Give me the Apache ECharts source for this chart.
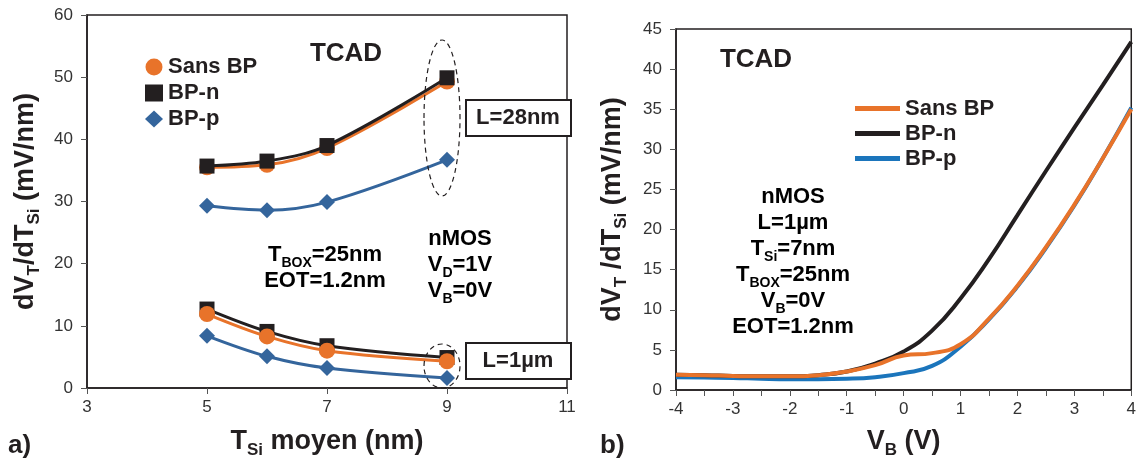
<!DOCTYPE html>
<html>
<head>
<meta charset="utf-8">
<script src="https://cdn.jsdelivr.net/npm/echarts@6/dist/echarts.min.js"></script>
<style>
html,body{margin:0;padding:0;background:#fff;}
#chart{width:1139px;height:464px;}
</style>
</head>
<body>
<div id="chart"></div>
<script>
// ---------- Data: panel a) ----------
const tsi = [5, 6, 7, 9];
const sans28 = [35.5, 35.9, 38.6, 49.3];
const bpn28  = [35.7, 36.5, 39.0, 49.9];
const bpp28  = [29.3, 28.6, 29.9, 36.7];
const sans1  = [11.9, 8.3, 6.0, 4.3];
const bpn1   = [12.7, 9.1, 6.8, 4.9];
const bpp1   = [8.4, 5.1, 3.2, 1.6];
const xTicksA = [3, 5, 7, 9, 11];

// ---------- Data: panel b) ----------
const vb    = [-4, -3.5, -3, -2.5, -2, -1.5, -1, -0.5, 0, 0.5, 1, 1.5, 2, 2.5, 3, 3.5, 4];
const sansB = [1.9, 1.85, 1.75, 1.7, 1.7, 1.85, 2.3, 3.1, 4.3, 4.6, 5.7, 8.9, 13.0, 17.8, 23.1, 28.9, 35.0];
const bpnB  = [1.9, 1.85, 1.75, 1.7, 1.7, 1.85, 2.3, 3.3, 4.8, 7.4, 11.4, 16.3, 21.8, 27.3, 32.7, 38.0, 43.4];
const bppB  = [1.6, 1.55, 1.5, 1.4, 1.35, 1.35, 1.4, 1.6, 2.1, 3.0, 5.4, 8.8, 12.9, 17.7, 23.0, 28.9, 35.2];

const ORANGE = '#E8732A', BLACK = '#231F20', BLUE_A = '#34659C', BLUE_B = '#1B75BC';
const FONT = 'Liberation Sans, Arial, Helvetica, sans-serif';

const pairs = (xs, ys) => xs.map((x, i) => [x, ys[i]]);

function rich(size, sub) {
  return {
    b: {fontSize: size, fontWeight: 'bold', fontFamily: FONT, color: BLACK, lineHeight: size + 4, verticalAlign: 'top', padding: [0, 0, 3, 0]},
    s: {fontSize: sub, fontWeight: 'bold', fontFamily: FONT, color: BLACK, lineHeight: sub, verticalAlign: 'bottom'}
  };
}

function markSeries(name, ys, color, symbol, size, z) {
  return {
    type: 'line', name, xAxisIndex: 0, yAxisIndex: 0, z,
    data: pairs(tsi, ys), smooth: 0.35,
    symbol, symbolSize: size, showSymbol: true,
    itemStyle: {color}, lineStyle: {color, width: 3},
    emphasis: {disabled: true}
  };
}
function curveSeries(name, ys, color, z) {
  return {
    type: 'line', name, xAxisIndex: 1, yAxisIndex: 1, z,
    data: pairs(vb, ys), smooth: 0.5, showSymbol: false, symbol: 'none',
    itemStyle: {color}, lineStyle: {color, width: 4},
    emphasis: {disabled: true}
  };
}

function axisCommon(isX) {
  return {
    axisLine: {show: true, onZero: false, lineStyle: {color: BLACK, width: 1.5}},
    axisTick: {show: true, inside: false, length: 6, lineStyle: {color: '#555', width: 1}},
    axisLabel: {color: '#333', fontSize: 17, fontFamily: FONT, margin: isX ? 11 : 14},
    splitLine: {show: false}
  };
}

const chart = echarts.init(document.getElementById('chart'), null, {renderer: 'canvas'});
const option = {
  animation: false,
  backgroundColor: '#fff',
  grid: [
    {left: 87, top: 15, width: 480, height: 374, show: true, borderColor: BLACK, borderWidth: 1.5, backgroundColor: 'transparent'},
    {left: 676, top: 29, width: 461, height: 361, show: true, borderColor: BLACK, borderWidth: 1.5, backgroundColor: 'transparent'}
  ],
  xAxis: [
    Object.assign(axisCommon(true), {
      type: 'value', gridIndex: 0, min: xTicksA[0], max: xTicksA[xTicksA.length - 1], interval: 2,
      name: '{b|T}{s|Si}{b| moyen (nm)}', nameLocation: 'middle', nameGap: 40,
      nameTextStyle: {rich: rich(27, 17)}
    }),
    Object.assign(axisCommon(true), {
      type: 'value', gridIndex: 1, min: -4, max: 4, interval: 1,
      minorTick: {show: true, splitNumber: 2, length: 6, lineStyle: {color: '#555'}},
      name: '{b|V}{s|B}{b| (V)}', nameLocation: 'middle', nameGap: 38,
      nameTextStyle: {rich: rich(27, 17)}
    })
  ],
  yAxis: [
    Object.assign(axisCommon(false), {
      type: 'value', gridIndex: 0, min: 0, max: 60, interval: 10,
      name: '{b|dV}{s|T}{b|/dT}{s|Si}{b| (mV/nm)}', nameLocation: 'middle', nameGap: 44, nameRotate: 90,
      nameTextStyle: {rich: rich(27, 17)}
    }),
    Object.assign(axisCommon(false), {
      type: 'value', gridIndex: 1, min: 0, max: 45, interval: 5,
      name: '{b|dV}{s|T}{b| /dT}{s|Si}{b| (mV/nm)}', nameLocation: 'middle', nameGap: 46, nameRotate: 90,
      nameTextStyle: {rich: rich(27, 17)}
    })
  ],
  legend: [
    {
      orient: 'vertical', left: 145, top: 56, padding: 0, itemWidth: 18, itemHeight: 17, itemGap: 4,
      selectedMode: false,
      textStyle: {fontSize: 22, fontWeight: 'bold', fontFamily: FONT, color: BLACK},
      data: [{name: 'Sans BP', icon: 'circle'}, {name: 'BP-n', icon: 'rect'}, {name: 'BP-p', icon: 'diamond'}]
    },
    {
      orient: 'vertical', left: 855, top: 96, padding: 0, itemWidth: 45, itemHeight: 5, itemGap: 0,
      selectedMode: false,
      formatter: n => n.replace('_b', ''),
      textStyle: {fontSize: 22, fontWeight: 'bold', fontFamily: FONT, color: BLACK, lineHeight: 25},
      data: [{name: 'Sans BP_b', icon: 'rect'}, {name: 'BP-n_b', icon: 'rect'}, {name: 'BP-p_b', icon: 'rect'}]
    }
  ],
  series: [
    markSeries('Sans BP', sans28, ORANGE, 'circle', 16, 2),
    markSeries('BP-p', bpp28, BLUE_A, 'diamond', 16, 2),
    markSeries('BP-n', bpn28, BLACK, 'rect', 15, 3),
    markSeries('BP-n', bpn1, BLACK, 'rect', 15, 3),
    markSeries('BP-p', bpp1, BLUE_A, 'diamond', 16, 3),
    markSeries('Sans BP', sans1, ORANGE, 'circle', 16, 4),
    curveSeries('BP-p_b', bppB, BLUE_B, 2),
    curveSeries('BP-n_b', bpnB, BLACK, 3),
    curveSeries('Sans BP_b', sansB, ORANGE, 4)
  ],
  graphic: [
    {type: 'ellipse', shape: {cx: 442, cy: 118, rx: 18, ry: 78}, style: {fill: 'none', stroke: BLACK, lineWidth: 1.2, lineDash: [5, 4]}, z: 10},
    {type: 'ellipse', shape: {cx: 442, cy: 366, rx: 18, ry: 22}, style: {fill: 'none', stroke: BLACK, lineWidth: 1.2, lineDash: [5, 4]}, z: 10},
    {type: 'rect', shape: {x: 466, y: 100, width: 105, height: 36}, style: {fill: '#fff', stroke: BLACK, lineWidth: 2}, z: 10},
    {type: 'text', x: 518, y: 118, style: {text: 'L=28nm', fontSize: 22, fontWeight: 'bold', fontFamily: FONT, fill: BLACK, align: 'center', verticalAlign: 'middle'}, z: 11},
    {type: 'rect', shape: {x: 466, y: 343, width: 105, height: 36}, style: {fill: '#fff', stroke: BLACK, lineWidth: 2}, z: 10},
    {type: 'text', x: 518, y: 361, style: {text: 'L=1µm', fontSize: 22, fontWeight: 'bold', fontFamily: FONT, fill: BLACK, align: 'center', verticalAlign: 'middle'}, z: 11},
    {type: 'text', x: 346, y: 54, style: {text: 'TCAD', fontSize: 26, fontWeight: 'bold', fontFamily: FONT, fill: BLACK, align: 'center', verticalAlign: 'middle'}, z: 11},
    {type: 'text', x: 756, y: 60, style: {text: 'TCAD', fontSize: 26, fontWeight: 'bold', fontFamily: FONT, fill: BLACK, align: 'center', verticalAlign: 'middle'}, z: 11},
    {type: 'text', x: 325, y: 270, style: {text: '{b|T}{s|BOX}{b|=25nm}\n{b|EOT=1.2nm}', rich: rich(22, 14), align: 'center', verticalAlign: 'middle'}, z: 11},
    {type: 'text', x: 460, y: 267, style: {text: '{b|nMOS}\n{b|V}{s|D}{b|=1V}\n{b|V}{s|B}{b|=0V}', rich: rich(22, 14), align: 'center', verticalAlign: 'middle'}, z: 11},
    {type: 'text', x: 793, y: 264, style: {text: '{b|nMOS}\n{b|L=1µm}\n{b|T}{s|Si}{b|=7nm}\n{b|T}{s|BOX}{b|=25nm}\n{b|V}{s|B}{b|=0V}\n{b|EOT=1.2nm}', rich: rich(22, 14), align: 'center', verticalAlign: 'middle'}, z: 11},
    {type: 'text', x: 8, y: 446, style: {text: 'a)', fontSize: 26, fontWeight: 'bold', fontFamily: FONT, fill: BLACK, align: 'left', verticalAlign: 'middle'}, z: 11},
    {type: 'text', x: 600, y: 446, style: {text: 'b)', fontSize: 26, fontWeight: 'bold', fontFamily: FONT, fill: BLACK, align: 'left', verticalAlign: 'middle'}, z: 11}
  ]
};
chart.setOption(option);
</script>
</body>
</html>
